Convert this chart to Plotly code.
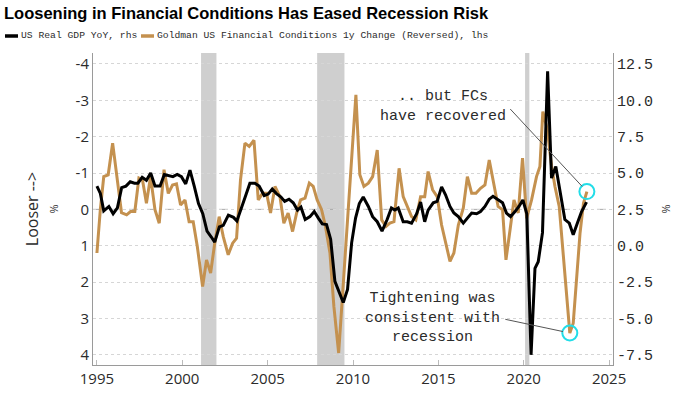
import plotly.graph_objects as go

# ---- data ----
gdp_t = [1995.0, 1995.2, 1995.4, 1995.7, 1995.95, 1996.2, 1996.45, 1996.7, 1996.95, 1997.2, 1997.4, 1997.65,
         1997.9, 1998.15, 1998.4, 1998.7, 1998.95, 1999.2, 1999.45, 1999.7, 1999.95, 2000.2, 2000.45, 2000.7,
         2000.95, 2001.2, 2001.45, 2001.7, 2001.9, 2002.17, 2002.4, 2002.7, 2003.0, 2003.2, 2003.47, 2003.73,
         2003.96, 2004.25, 2004.5, 2004.8, 2005.03, 2005.27, 2005.5, 2005.78, 2006.0, 2006.25, 2006.5, 2006.75,
         2006.95, 2007.2, 2007.48, 2007.73, 2007.97, 2008.2, 2008.45, 2008.69, 2008.94, 2009.18, 2009.43,
         2009.68, 2009.92, 2010.15, 2010.37, 2010.6, 2010.9, 2011.15, 2011.42, 2011.7, 2012.0, 2012.25,
         2012.45, 2012.65, 2012.94, 2013.18, 2013.43, 2013.73, 2013.96, 2014.2, 2014.4, 2014.7, 2014.93,
         2015.19, 2015.42, 2015.68, 2015.91, 2016.17, 2016.46, 2016.7, 2016.95, 2017.24, 2017.47, 2017.73,
         2017.98, 2018.2, 2018.5, 2018.76, 2018.99, 2019.23, 2019.49, 2019.72, 2019.95, 2020.18, 2020.43,
         2020.66, 2020.85, 2021.1, 2021.4, 2021.63, 2021.88, 2022.12, 2022.41, 2022.67, 2022.9, 2023.14,
         2023.39, 2023.68]
gdp_v = [4.1, 3.6, 2.4, 2.7, 2.2, 2.6, 4.0, 4.1, 4.4, 4.3, 4.3, 4.7,
         4.5, 5.0, 4.1, 4.1, 4.9, 4.8, 4.75, 4.9, 4.75, 4.25, 5.2, 4.1,
         2.9, 2.2, 1.0, 0.6, 0.25, 1.3, 1.4, 2.1, 1.95, 1.7, 2.7, 3.5,
         4.3, 4.3, 4.1, 3.45, 3.55, 3.9, 3.6, 3.35, 3.05, 3.2, 2.95, 2.45,
         2.65, 1.8, 2.0, 2.35, 1.9, 1.5, 1.45, 0.45, -2.45, -3.15, -3.9,
         -3.0, 0.2, 1.9, 2.9, 3.35, 2.7, 2.0, 1.65, 1.0, 1.8, 2.6,
         2.45, 2.6, 1.65, 1.65, 1.55, 2.2, 3.0, 1.65, 2.45, 2.95, 3.05,
         4.05, 3.5, 2.7, 2.25, 2.0, 1.55, 1.9, 2.25, 2.2, 2.35, 2.7,
         3.2, 3.4, 3.15, 2.95, 2.25, 2.0, 2.35, 2.7, 3.15, 2.2, -7.5,
         -1.55, -1.1, 0.9, 12.0, 4.65, 5.45, 3.7, 1.8, 1.55, 0.75, 1.55,
         2.35, 3.0]

fci_t = [1995.0, 1995.2, 1995.4, 1995.66, 1995.92, 1996.2, 1996.44, 1996.74, 1996.97, 1997.22, 1997.46,
         1997.67, 1997.9, 1998.14, 1998.4, 1998.65, 1998.93, 1999.18, 1999.43, 1999.66, 1999.9, 2000.16,
         2000.4, 2000.64, 2000.88, 2001.19, 2001.42, 2001.66, 2001.9, 2002.16, 2002.4, 2002.69, 2002.95,
         2003.18, 2003.41, 2003.67, 2003.92, 2004.2, 2004.45, 2004.7, 2004.94, 2005.17, 2005.43, 2005.72,
         2005.95, 2006.2, 2006.46, 2006.7, 2006.93, 2007.19, 2007.44, 2007.67, 2007.9, 2008.16, 2008.39,
         2008.65, 2008.88, 2009.16, 2010.17, 2010.4, 2010.64, 2010.9, 2011.15, 2011.42, 2011.68, 2011.93,
         2012.16, 2012.4, 2012.7, 2012.94, 2013.18, 2013.43, 2013.68, 2013.96, 2014.2, 2014.4, 2014.66,
         2014.93, 2015.19, 2015.42, 2015.68, 2015.91, 2016.17, 2016.46, 2016.7, 2016.95, 2017.2, 2017.47,
         2017.73, 2017.98, 2018.2, 2018.5, 2018.76, 2018.96, 2019.2, 2019.43, 2019.68, 2019.93, 2020.17,
         2020.46, 2020.75, 2020.95, 2021.12, 2021.38, 2021.63, 2021.83, 2022.08, 2022.28, 2022.51, 2022.7,
         2022.9, 2023.1, 2023.3, 2023.5, 2023.7]
fci_v = [1.2, 0.0, -0.9, -0.95, -1.82, -0.81, 0.09, 0.15, 0.06, 0.06, -0.86,
         -0.81, -0.17, -0.9, 0.01, 0.38, -1.09, -0.44, -0.67, -0.7, -0.12, -0.26,
         0.34, 0.34, 1.02, 2.12, 1.39, 1.75, 0.93, 0.2, 0.75, 1.25, 0.93,
         0.79, -0.81, -1.82, -1.73, -1.9, -0.26, -0.44, -0.44, 0.1, -0.63, -0.35,
         0.38, 0.1, 0.61, 0.1, -0.26, -0.31, -0.72, -0.63, -0.26, 0.01, 0.47,
         1.2, 2.67, 3.95, -3.15, -0.95, -0.63, -0.72, -0.9, -1.63, 0.29, 0.47,
         0.38, 0.34, -1.13, -0.35, -0.08, 0.2, 0.29, -0.35, -0.35, -1.04, -0.54,
         -0.35, 0.43, 0.88, 1.43, 1.2, 0.43, -0.03, -0.9, -0.44, -0.44, -0.58,
         -0.67, -1.36, -0.81, -0.08, 0.01, 1.39, 0.56, -0.26, 0.1, -1.41, 0.25,
         -0.26, -0.9, -1.18, -2.69, -2.2, -1.2, -0.63, -0.08, 1.02, 2.49, 3.4,
         3.13, 1.75, 0.65, -0.17, -0.49]

# highlighted points (indices into the FCI series)
highlight_idx = [fci_t.index(2022.7), fci_t.index(2023.7)]

recessions = [(2001.1, 2002.0), (2007.9, 2009.5), (2020.08, 2020.33)]

left_ticks = [-4, -3, -2, -1, 0, 1, 2, 3, 4]
right_ticks = [-7.5, -5.0, -2.5, 0.0, 2.5, 5.0, 7.5, 10.0, 12.5]
x_ticks = [1995, 2000, 2005, 2010, 2015, 2020, 2025]

GOLD = "#c4914f"
CYAN = "#22dde8"
GRAY = "#9a9a9a"
TXT = "#2b2b2b"

fig = go.Figure()

for a, b in recessions:
    fig.add_vrect(x0=a, x1=b, fillcolor="#cfcfcf", opacity=1, line_width=0, layer="below")

fig.add_shape(type="line", xref="paper", x0=0, x1=1, yref="y", y0=0, y1=0,
              line=dict(color="#a8a8a8", width=1, dash="dash"), layer="below")

fig.add_trace(go.Scatter(x=fci_t, y=fci_v, mode="lines", yaxis="y",
                         line=dict(color=GOLD, width=3), showlegend=False, hoverinfo="skip"))
fig.add_trace(go.Scatter(x=gdp_t, y=gdp_v, mode="lines", yaxis="y2",
                         line=dict(color="black", width=3), showlegend=False, hoverinfo="skip"))
fig.add_trace(go.Scatter(x=[fci_t[i] for i in highlight_idx], y=[fci_v[i] for i in highlight_idx],
                         mode="markers", yaxis="y",
                         marker=dict(symbol="circle-open", size=15, color=CYAN, line=dict(width=2, color=CYAN)),
                         showlegend=False, hoverinfo="skip"))

mono = "Liberation Mono"
sans = "Open Sans"

# annotations: text
fig.add_annotation(x=2015.27, y=-2.82, xref="x", yref="y", text=".. but FCs<br>have recovered",
                   showarrow=False, font=dict(family=mono, size=15, color=TXT))
fig.add_annotation(x=2014.68, y=2.98, xref="x", yref="y", text="Tightening was<br>consistent with<br>recession",
                   showarrow=False, font=dict(family=mono, size=15, color=TXT))
# connector lines
i0, i1 = highlight_idx
fig.add_annotation(x=fci_t[i1], y=fci_v[i1], xref="x", yref="y", text="", showarrow=True,
                   arrowhead=0, arrowwidth=1, arrowcolor="#555", ax=-78, ay=-84, standoff=7)
fig.add_annotation(x=fci_t[i0], y=fci_v[i0], xref="x", yref="y", text="", showarrow=True,
                   arrowhead=0, arrowwidth=1, arrowcolor="#555", ax=-66, ay=-14, standoff=7)

# legend built from shapes + text
def px_x(p):
    return (p - 93) / 520.0

def px_y(p):
    return 1 + (53 - p) / 312.0

ly = 36
fig.add_shape(type="line", xref="paper", yref="paper", x0=px_x(5), x1=px_x(18), y0=px_y(ly), y1=px_y(ly),
              line=dict(color="black", width=3.5))
fig.add_annotation(xref="paper", yref="paper", x=px_x(19), y=px_y(ly), xanchor="left", yanchor="middle",
                   text="US Real GDP YoY, rhs", showarrow=False, font=dict(family=mono, size=9.7, color=TXT))
fig.add_shape(type="line", xref="paper", yref="paper", x0=px_x(141), x1=px_x(154), y0=px_y(ly), y1=px_y(ly),
              line=dict(color=GOLD, width=3.5))
fig.add_annotation(xref="paper", yref="paper", x=px_x(155), y=px_y(ly), xanchor="left", yanchor="middle",
                   text="Goldman US Financial Conditions 1y Change (Reversed), lhs", showarrow=False,
                   font=dict(family=mono, size=9.7, color=TXT))

fig.update_layout(
    width=700, height=394,
    margin=dict(l=93, r=87, t=53, b=29, autoexpand=False),
    paper_bgcolor="white", plot_bgcolor="white",
    title=dict(text="<b>Loosening in Financial Conditions Has Eased Recession Risk</b>",
               x=4 / 700, xanchor="left", xref="container", y=1 - 13 / 394, yanchor="middle",
               font=dict(family="Liberation Sans", size=16.5, color="black")),
    xaxis=dict(range=[1994.77, 2025.23], tickvals=x_ticks, ticktext=[str(v) for v in x_ticks],
               showgrid=False, zeroline=False, showline=True, linecolor=GRAY, linewidth=1,
               ticks="inside", ticklen=5, tickcolor="#bbbbbb", automargin=False,
               tickfont=dict(family=sans, size=15, color=TXT)),
    yaxis=dict(range=[4.28, -4.3], tickvals=left_ticks, ticktext=[str(v) for v in left_ticks],
               showgrid=True, gridcolor="#d6d6d6", griddash="dot", gridwidth=1, automargin=False,
               zeroline=False, showline=True, linecolor=GRAY, linewidth=1,
               tickfont=dict(family=sans, size=15, color=TXT),
               title=dict(text="Looser --><br><span style='font-size:11px'>%</span>",
                          font=dict(family=sans, size=16, color=TXT), standoff=12)),
    yaxis2=dict(range=[-8.2, 13.25], overlaying="y", side="right", tickvals=right_ticks,
                ticktext=[f"{v:.1f}" for v in right_ticks], showgrid=False, zeroline=False,
                showline=True, linecolor=GRAY, linewidth=1, automargin=False,
                tickfont=dict(family=mono, size=15, color=TXT),
                title=dict(text="%", font=dict(family=sans, size=11, color=TXT), standoff=10)),
)

fig.write_html("out.html", config={"displayModeBar": False},
               post_script="document.body.style.margin='0';document.body.style.padding='0';")
